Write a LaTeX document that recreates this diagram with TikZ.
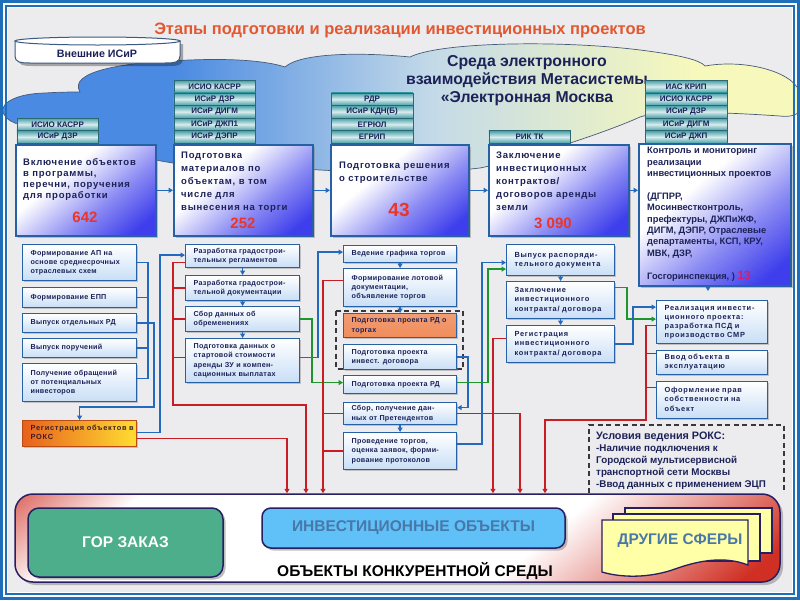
\documentclass[tikz,border=0pt]{standalone}
\usepackage{fontspec}
\setmainfont{Liberation Sans}
\newfontfamily\lsA[LetterSpace=8]{Liberation Sans}
\newfontfamily\lsB[LetterSpace=4]{Liberation Sans}
\newfontfamily\lsC[LetterSpace=10]{Liberation Sans}
\usetikzlibrary{shadows,arrows.meta}
\definecolor{framebl}{RGB}{30,110,185}
\definecolor{bggray}{RGB}{236,236,238}
\definecolor{titlec}{RGB}{226,88,48}
\definecolor{navy}{RGB}{28,34,88}
\definecolor{boxbl}{RGB}{38,96,165}
\definecolor{tagteal}{RGB}{70,160,168}
\definecolor{tagdark}{RGB}{40,105,115}
\definecolor{numred}{RGB}{236,52,40}
\definecolor{numpink}{RGB}{215,30,110}
\definecolor{linebl}{RGB}{35,105,190}
\definecolor{linered}{RGB}{200,30,35}
\definecolor{linegr}{RGB}{30,150,45}
\definecolor{stageblue}{RGB}{62,62,236}
\definecolor{subblue}{RGB}{200,222,246}
\definecolor{orangefill}{RGB}{240,140,90}
\definecolor{orline}{RGB}{185,75,20}
\definecolor{orleft}{RGB}{232,96,28}
\definecolor{orright}{RGB}{255,222,50}
\definecolor{ortext}{RGB}{60,30,40}
\definecolor{gorgreen}{RGB}{76,174,138}
\definecolor{invblue}{RGB}{96,192,248}
\definecolor{invtext}{RGB}{72,120,168}
\definecolor{sheetyel}{RGB}{255,255,168}
\definecolor{panelred}{RGB}{208,48,36}
\definecolor{panelline}{RGB}{40,30,100}
\definecolor{cloudblue}{RGB}{74,138,226}
\definecolor{cloudmid}{RGB}{196,218,232}
\definecolor{cloudyel}{RGB}{246,248,188}
\definecolor{cloudedge}{RGB}{70,90,120}
\definecolor{dashgray}{RGB}{55,55,60}
\definecolor{drumline}{RGB}{60,90,130}
\pgfdeclarehorizontalshading{panelshade}{100bp}{color(0bp)=(panelred); color(11bp)=(panelred); color(25bp)=(white); color(62bp)=(white); color(82bp)=(panelred); color(100bp)=(panelred)}
\pgfdeclarehorizontalshading{cloudshade}{100bp}{color(0bp)=(cloudblue); color(36bp)=(cloudblue); color(52bp)=(cloudmid); color(68bp)=(cloudyel); color(100bp)=(cloudyel)}
\pgfdeclareverticalshading{stageshade}{100bp}{color(0bp)=(stageblue); color(22bp)=(stageblue); color(40bp)=(stageblue!60!white); color(62bp)=(white); color(100bp)=(white)}
\newcommand\ltab[1]{\begin{tabular}{@{}l@{}}#1\end{tabular}}
\newcommand\subbox[7][]{\pgfmathsetmacro\tw{#5-16}\node[sub,#1,minimum width=#5pt,minimum height=#6pt,text width=\tw pt] (#2) at (#3,#4) {\ltab{#7}};}
\newcommand\tagbox[4]{\node[tagst] (#1) at (#2,#3) {#4};}
\begin{document}
\begin{tikzpicture}[x=1pt,y=-1pt,
  stage/.style={draw=boxbl, line width=1.6pt, shading=stageshade, shading angle=40, drop shadow={shadow xshift=2.5pt, shadow yshift=-2.5pt, opacity=0.45}, inner sep=0pt, anchor=north west},
  stext/.style={anchor=north west, inner sep=0pt, text=navy, font=\lsA\fontsize{9.5}{11}\selectfont\bfseries},
  num/.style={inner sep=0pt, text=numred, font=\fontsize{15}{15}\selectfont\bfseries},
  tagst/.style={draw=tagdark, line width=0.7pt, top color=tagteal, bottom color=tagteal, middle color=white!80!tagteal, minimum width=81.5pt, minimum height=12.4pt, inner sep=0pt, text=navy, font=\fontsize{8}{8}\selectfont\bfseries, anchor=north west},
  sub/.style={draw=boxbl, line width=1.2pt, top color=white, bottom color=subblue, drop shadow={shadow xshift=1.8pt, shadow yshift=-1.8pt, opacity=0.4}, anchor=north west, inner xsep=8pt, inner ysep=0pt, align=left, text=navy, font=\lsB\fontsize{7.2}{9.2}\selectfont\bfseries},
  small/.style={font=\lsC\fontsize{7.4}{9.1}\selectfont\bfseries},
  orbox/.style={draw=orline, left color=orleft, right color=orright, text=ortext},
  rdbox/.style={top color=orangefill!85!white, bottom color=orangefill},
  bl/.style={draw=linebl, line width=1.3pt},
  rd/.style={draw=linered, line width=1.3pt},
  gr/.style={draw=linegr, line width=1.3pt},
  arr/.style={-{Triangle[length=4.5pt,width=5pt]}},
  bigbtn/.style={draw=panelline, line width=1.5pt, drop shadow={shadow xshift=2.5pt, shadow yshift=-2.5pt, opacity=0.5}, inner sep=0pt, font=\fontsize{15.5}{16}\selectfont\bfseries},
  sheet/.style={draw=panelline, line width=1.3pt, fill=sheetyel}
]
\useasboundingbox (0,0) rectangle (800,600);
\fill[white] (0,0) rectangle (800,600);
\fill[bggray] (8,8) rectangle (792,592);
% cloud
\shadedraw[shading=cloudshade, draw=cloudedge, line width=0.7pt]
 (6,117)
 .. controls (-4,108) and (8,94) .. (45,93)
 .. controls (60,92) and (72,92) .. (80,92)
 .. controls (68,72) and (120,62) .. (190,60)
 .. controls (240,58) and (270,62) .. (285,67)
 .. controls (300,53) and (360,52) .. (410,57)
 .. controls (440,42) and (560,40) .. (640,50)
 .. controls (680,55) and (700,60) .. (705,66)
 .. controls (750,58) and (805,75) .. (800,100)
 .. controls (805,112) and (795,118) .. (780,116)
 .. controls (720,112) and (660,110) .. (640,117)
 .. controls (600,135) and (520,160) .. (480,168)
 .. controls (420,175) and (360,172) .. (320,170)
 .. controls (250,166) and (200,165) .. (173,163)
 .. controls (140,158) and (60,140) .. (20,125)
 .. controls (12,122) and (8,120) .. (6,117) -- cycle;
% frame
\draw[framebl, line width=3pt] (1.5,1.5) rectangle (798.5,598.5);
\draw[framebl, line width=1.4pt] (6,6) rectangle (794,594);
% title
\node[font=\fontsize{16.5}{17}\selectfont\bfseries, text=titlec] (title) at (400,30) {Этапы подготовки и реализации инвестиционных проектов};
% drum
\fill[black, opacity=0.3] (18,44) -- (18,59) .. controls (18,65) and (23,66) .. (33,66) -- (168,66) .. controls (178,66) and (183,65) .. (183,59) -- (183,44) -- cycle;
\draw[drumline, line width=1pt, fill=white] (15,41) -- (15,56) .. controls (15,62) and (20,63) .. (30,63) -- (165,63) .. controls (175,63) and (180,62) .. (180,56) -- (180,41) -- cycle;
\draw[drumline, line width=1pt, fill=white] (97.5,41) ellipse [x radius=82.5, y radius=4];
\node[font=\fontsize{10.7}{11}\selectfont\bfseries, text=navy] (ext) at (97,54) {Внешние ИСиР};
% cloud text
\node[align=center, font=\fontsize{15.8}{18}\selectfont\bfseries, text=navy] (cloudtxt) at (527,81) {Среда электронного\\взаимодействия Метасистемы\\«Электронная Москва};
% tags
\tagbox{t11}{16.5}{117.8}{ИСИО КАСРР}
\tagbox{t12}{16.5}{130.4}{ИСиР ДЗР}
\tagbox{t21}{173.5}{80}{ИСИО КАСРР}
\tagbox{t22}{173.5}{92.6}{ИСиР ДЗР}
\tagbox{t23}{173.5}{105.2}{ИСиР ДИГМ}
\tagbox{t24}{173.5}{117.8}{ИСиР ДЖП1}
\tagbox{t25}{173.5}{130.4}{ИСиР ДЭПР}
\tagbox{t31}{331}{92.6}{РДР}
\tagbox{t32}{331}{105.2}{ИСиР КДН(Б)}
\tagbox{t33}{331}{117.8}{ЕГРЮЛ}
\tagbox{t34}{331}{130.4}{ЕГРИП}
\tagbox{t41}{488.5}{130.4}{РИК ТК}
\tagbox{t51}{645}{80}{ИАС КРИП}
\tagbox{t52}{645}{92.6}{ИСИО КАСРР}
\tagbox{t53}{645}{105.2}{ИСиР ДЗР}
\tagbox{t54}{645}{117.8}{ИСиР ДИГМ}
\tagbox{t55}{645}{130.4}{ИСиР ДЖП}
% stage boxes
\node[stage, minimum width=140pt, minimum height=91pt] (S1) at (15,144) {};
\node[stage, minimum width=139pt, minimum height=91pt] (S2) at (173,144) {};
\node[stage, minimum width=138pt, minimum height=91pt] (S3) at (330,144) {};
\node[stage, minimum width=140pt, minimum height=91pt] (S4) at (488,144) {};
\node[stage, minimum width=152pt, minimum height=142pt] (S5) at (638,143) {};
\node[stext] (T1) at (23,158) {\ltab{Включение объектов\\в программы,\\перечни, поручения\\для проработки}};
\node[num] (N1) at (85,217) {642};
\node[stext, font=\lsA\fontsize{9.5}{13}\selectfont\bfseries] (T2) at (181,149) {\ltab{Подготовка\\материалов по\\объектам, в том\\числе для\\вынесения на торги}};
\node[num] (N2) at (243,223) {252};
\node[stext, font=\lsA\fontsize{9.5}{13}\selectfont\bfseries] (T3) at (339,159) {\ltab{Подготовка решения\\о строительстве}};
\node[num, font=\fontsize{19}{19}\selectfont\bfseries] (N3) at (399,210) {43};
\node[stext, font=\lsA\fontsize{9.5}{13}\selectfont\bfseries] (T4) at (496,149) {\ltab{Заключение\\инвестиционных\\контрактов/\\договоров аренды\\земли}};
\node[num] (N4) at (553,223) {3 090};
\node[stext, font=\fontsize{9.3}{11.4}\selectfont\bfseries] (T5) at (647,145.5) {\ltab{Контроль и мониторинг\\реализации\\инвестиционных проектов\\ \\(ДГПРР,\\Мосинвестконтроль,\\префектуры, ДЖПиЖФ,\\ДИГМ, ДЭПР, Отраслевые\\департаменты, КСП, КРУ,\\МВК, ДЗР,\\ \\Госгоринспекция, ) {\color{numpink}\fontsize{12}{12}\selectfont 13}}};
% dashed group
\draw[dashgray, line width=1.3pt, dash pattern=on 5pt off 3.5pt] (336,311) rectangle (463,369);
% sub boxes
\subbox{A1}{22}{244}{114}{36}{Формирование АП на\\основе среднесрочных\\отраслевых схем}
\subbox{A2}{22}{287}{114}{20}{Формирование ЕПП}
\subbox{A3}{22}{313}{114}{19}{Выпуск отдельных РД}
\subbox{A4}{22}{338}{114}{19}{Выпуск поручений}
\subbox{A5}{22}{363}{114}{38}{Получение обращений\\от потенциальных\\инвесторов}
\subbox[orbox, small]{A6}{22}{420}{114}{26}{Регистрация объектов в\\РОКС}
\subbox{B1}{185}{244}{114}{23}{Разработка градострои-\\тельных регламентов}
\subbox{B2}{185}{275}{114}{25}{Разработка градострои-\\тельной документации}
\subbox{B3}{185}{306}{114}{25}{Сбор данных об\\обременениях}
\subbox{B4}{185}{338}{114}{44}{Подготовка данных о\\стартовой стоимости\\аренды ЗУ и компен-\\сационных выплатах}
\subbox{C1}{343}{245}{113}{17}{Ведение графика торгов}
\subbox{C2}{343}{268}{113}{38}{Формирование лотовой\\документации,\\объявление торгов}
\subbox[rdbox]{C3}{343}{313}{113}{24}{Подготовка проекта РД о\\торгах}
\subbox{C4}{343}{344}{113}{25}{Подготовка проекта\\инвест. договора}
\subbox{C5}{343}{375}{113}{18}{Подготовка проекта РД}
\subbox{C6}{343}{402}{113}{22}{Сбор, получение дан-\\ных от Претендентов}
\subbox{C7}{343}{432}{113}{37}{Проведение торгов,\\оценка заявок, форми-\\рование протоколов}
\subbox[small]{D1}{506}{244}{108}{31}{Выпуск распоряди-\\тельного документа}
\subbox[small]{D2}{506}{281}{108}{37}{Заключение\\инвестиционного\\контракта/ договора}
\subbox[small]{D3}{506}{325}{108}{37}{Регистрация\\инвестиционного\\контракта/ договора}
\subbox[small]{E1}{656}{300}{111}{43}{Реализация инвести-\\ционного проекта:\\разработка ПСД и\\производство СМР}
\subbox[small]{E2}{656}{350}{111}{24}{Ввод объекта в\\эксплуатацию}
\subbox[small]{E3}{656}{381}{111}{37}{Оформление прав\\собственности на\\объект}
% conditions
\draw[dashgray, line width=1.3pt, dash pattern=on 5pt off 3.5pt] (589,493) -- (589,425) -- (784,425) -- (784,493);
\node[anchor=north west, inner sep=0pt, text=navy, font=\fontsize{9.8}{12}\selectfont\bfseries] (cond) at (596,431) {\ltab{{\fontsize{10.8}{12}\selectfont Условия ведения РОКС:}\\-Наличие подключения к\\Городской мультисервисной\\транспортной сети Москвы\\-Ввод данных с применением ЭЦП}};
% bottom panel
\node[draw=panelline, line width=1.5pt, rounded corners=18pt, shading=panelshade, shading angle=-50, drop shadow={shadow xshift=3pt, shadow yshift=-3pt, opacity=0.5}, minimum width=765pt, minimum height=88pt, inner sep=0pt] (panel) at (397.5,538) {};
\node[bigbtn, rounded corners=11pt, fill=gorgreen, text=white, minimum width=195pt, minimum height=69pt] (gor) at (125.5,542.5) {ГОР ЗАКАЗ};
\node[bigbtn, rounded corners=9pt, fill=invblue, text=invtext, minimum width=303pt, minimum height=40pt] (inv) at (413.5,528) {ИНВЕСТИЦИОННЫЕ ОБЪЕКТЫ};
\draw[sheet] (625,508) rectangle (772,553);
\draw[sheet] (613,514) rectangle (760,561);
\draw[sheet] (602,520) -- (748,520) -- (748,565) .. controls (725,556) and (700,560) .. (675,569) .. controls (650,578) and (622,578) .. (602,572) -- cycle;
\node[font=\fontsize{15.4}{16}\selectfont\bfseries, text=invtext] (other) at (680,541) {ДРУГИЕ СФЕРЫ};
\node[font=\fontsize{15.5}{16}\selectfont\bfseries, text=black] (konk) at (415,571) {ОБЪЕКТЫ КОНКУРЕНТНОЙ СРЕДЫ};
% helper coordinates
\coordinate (xa) at (148,0);
\coordinate (xb) at (154,0);
\coordinate (yb) at (0,407);
\coordinate (xc) at (160,0);
\coordinate (xd) at (173,0);
\coordinate (yd) at (0,405);
\coordinate (xe) at (306,0);
\coordinate (xf) at (287,0);
\coordinate (xg) at (323,0);
\coordinate (xh) at (520,0);
\coordinate (xi) at (493,0);
\coordinate (xj) at (646,0);
\coordinate (yk) at (0,420);
\coordinate (xk) at (545,0);
\coordinate (xl) at (318,0);
\coordinate (xm) at (312,0);
\coordinate (xn) at (468,0);
\coordinate (xo) at (482,0);
\coordinate (xp) at (488,0);
\coordinate (xq) at (627,0);
\coordinate (xr) at (633,0);
\coordinate (s5tip) at (708,291);
% stage arrows
\draw[bl,arr] (S1.east) -- (S2.west);
\draw[bl,arr] (S2.east) -- (S3.west);
\draw[bl,arr] (S3.east) -- (S4.west);
\draw[bl,arr] (S4.east) -- (S4.east -| S5.west);
\draw[bl,arr] (S5.south -| s5tip) -- (s5tip);
% column A
\draw[bl] (A1.east) -- (A1.east -| xa) -- ([yshift=4pt]A5.east -| xa) -- ([yshift=4pt]A5.east);
\draw[bl] (A2.east) -- (A2.east -| xa);
\draw[bl] (A4.east) -- (A4.east -| xa);
\draw[bl,arr] (A3.east) -- (A3.east -| xb) -- (xb |- yb) -- (A6.north |- yb) -- (A6.north);
\draw[bl,arr] ([yshift=1pt]A6.east) -- ([yshift=1pt]A6.east -| xc) |- ([yshift=1pt]B1.west);
\draw[rd,arr] ([yshift=-5pt]A6.east) -- ([yshift=-5pt]A6.east -| xf) -- (xf |- panel.north);
% column B
\draw[bl,arr] (B1.south) -- (B2.north);
\draw[bl,arr] (B2.south) -- (B3.north);
\draw[bl,arr] (B3.south) -- (B4.north);
\draw[rd,arr] ([yshift=-6.5pt]B1.west) -- ([yshift=-6.5pt]B1.west -| xd) -- (xd |- yd) -- (xe |- yd) -- (xe |- panel.north);
\draw[rd] (B2.west) -- (B2.west -| xd);
\draw[rd] (B3.west) -- (B3.west -| xd);
\draw[rd] ([yshift=3pt]B4.west) -- ([yshift=3pt]B4.west -| xd);
\draw[bl,arr] ([yshift=3pt]B4.east) -- ([yshift=3pt]B4.east -| xl) |- ([yshift=2pt]C1.west);
\draw[gr,arr] (B3.east) -- (B3.east -| xm) |- ([yshift=2pt]C5.west);
% column C
\draw[bl,arr] (C1.south) -- (C2.north);
\draw[bl,arr] (C2.south) -- (C3.north);
\draw[bl,arr] (C6.south) -- (C7.north);
\draw[rd,arr] ([yshift=7pt]C2.west) -- ([yshift=7pt]C2.west -| xg) -- (xg |- panel.north);
\draw[rd] (C6.west) -- (C6.west -| xg);
\draw[rd] (C7.west) -- (C7.west -| xg);
\draw[bl,arr] (C4.east) -- (C4.east -| xn) |- ([yshift=6pt]C6.east);
\draw[rd,arr] (C6.east) -- (C6.east -| xh) -- (xh |- panel.north);
\draw[bl,arr] ([yshift=7pt]C7.east) -- ([yshift=7pt]C7.east -| xo) |- ([yshift=-2.5pt]D1.west);
\draw[gr,arr] ([yshift=2pt]C5.east) -- ([yshift=2pt]C5.east -| xp) |- ([yshift=-9pt]D1.west);
% column D
\draw[bl,arr] (D1.south) -- (D2.north);
\draw[bl,arr] (D2.south) -- (D3.north);
\draw[rd,arr] ([yshift=5.5pt]D3.west) -- ([yshift=5.5pt]D3.west -| xi) -- (xi |- panel.north);
\draw[gr,arr] ([yshift=12.5pt]D2.east) -- ([yshift=12.5pt]D2.east -| xq) |- ([yshift=3pt]E1.west);
\draw[bl,arr] (D3.east) -- (D3.east -| xr) |- ([yshift=15pt]E1.west);
% column E
\draw[rd,arr] ([yshift=-3.5pt]E1.west) -- ([yshift=-3.5pt]E1.west -| xj) -- (xj |- yk) -- (xk |- yk) -- (xk |- panel.north);
\draw[rd] ([yshift=9pt]E2.west) -- ([yshift=9pt]E2.west -| xj);
\draw[rd] ([yshift=12.5pt]E3.west) -- ([yshift=12.5pt]E3.west -| xj);
\end{tikzpicture}
\end{document}
